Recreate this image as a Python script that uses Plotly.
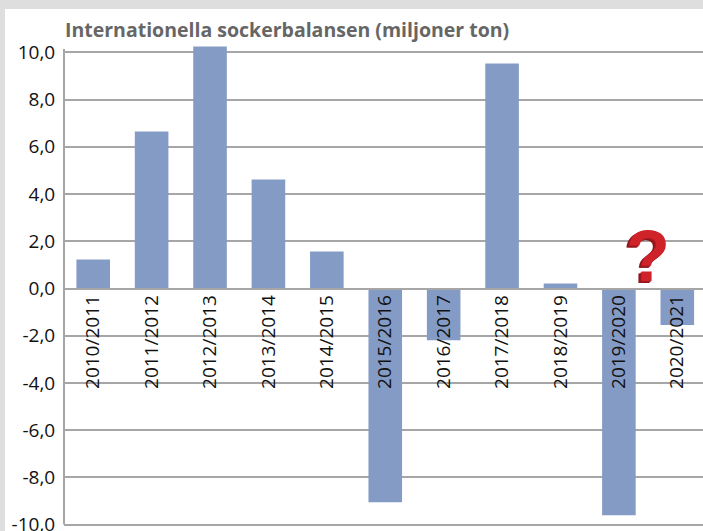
import plotly.graph_objects as go

categories = ["2010/2011", "2011/2012", "2012/2013", "2013/2014", "2014/2015", "2015/2016",
              "2016/2017", "2017/2018", "2018/2019", "2019/2020", "2020/2021"]
balance = [1.23, 6.65, 10.25, 4.62, 1.57, -9.05, -2.19, 9.53, 0.21, -9.6, -1.55]
y_ticks = [10, 8, 6, 4, 2, 0, -2, -4, -6, -8, -10]
y_labels = ["10,0", "8,0", "6,0", "4,0", "2,0", "0,0", "-2,0", "-4,0", "-6,0", "-8,0", "-10,0"]
title_text = "Internationella sockerbalansen (miljoner ton)"

W, H = 703, 531
L, T, B = 64, 46, 526
SCALE = 23.61
ZERO = 288.5
GRID = "#a6a6a6"
FONT = "Open Sans"

fig = go.Figure(go.Bar(
    x=list(range(len(categories))), y=balance,
    width=0.575, marker=dict(color="#849bc6", line_width=0),
    cliponaxis=False, hoverinfo="skip",
))

px = lambda v: (v - L) / (W - L)
py = lambda v: (B - v) / (B - T)

fig.update_layout(
    width=W, height=H, autosize=False,
    margin=dict(l=L, r=0, t=T, b=H - B, pad=0),
    paper_bgcolor="#dedede", plot_bgcolor="rgba(0,0,0,0)",
    showlegend=False,
    xaxis=dict(
        range=[-0.5, 10.44], anchor="free", position=py(ZERO),
        tickmode="array", tickvals=list(range(len(categories))), ticktext=categories,
        tickangle=-90, ticks="outside", ticklen=0, ticklabelstandoff=-2,
        tickfont=dict(family=FONT, size=19, color="#111111"),
        showgrid=False, zeroline=False, showline=True, linecolor=GRID, linewidth=2,
        automargin=False,
    ),
    yaxis=dict(
        range=[(ZERO - B) / SCALE, (ZERO - T) / SCALE], tickmode="array", tickvals=y_ticks, ticktext=y_labels,
        ticks="outside", ticklen=0, ticklabelstandoff=4, ticklabeloverflow="allow",
        tickfont=dict(family=FONT, size=19, color="#111111"),
        showgrid=True, gridcolor=GRID, gridwidth=2, zeroline=False,
        showline=False, automargin=False,
    ),
    annotations=[
        dict(xref="paper", yref="paper", x=0, y=1, xshift=-1, yshift=17, xanchor="left", yanchor="middle",
             text="<b>" + title_text + "</b>", showarrow=False,
             font=dict(family=FONT, size=19.5, color="#666666")),
        dict(x=9.5, y=1.37, xref="x", yref="y", text="<b>?</b>", showarrow=False,
             xanchor="center", yanchor="middle",
             font=dict(family="Liberation Sans", size=72, color="#cf2229",
                       shadow="-1px 1px 0 #a01a20, -2px 2px 0 #8f161b, -3px 2px 0 #8f161b")),
    ],
    shapes=[
        dict(type="rect", xref="paper", yref="paper", layer="below", x0=px(5), x1=px(W + 5),
             y0=py(H + 5), y1=py(9), fillcolor="#ffffff", line_width=0),
        dict(type="line", xref="paper", yref="y", layer="below", x0=0, x1=0, y0=-10, y1=10.14,
             line=dict(color=GRID, width=2)),
    ],
)
fig.write_html("out.html", config={"displayModeBar": False},
               post_script="document.body.style.margin='0';document.documentElement.style.overflow='hidden';")
